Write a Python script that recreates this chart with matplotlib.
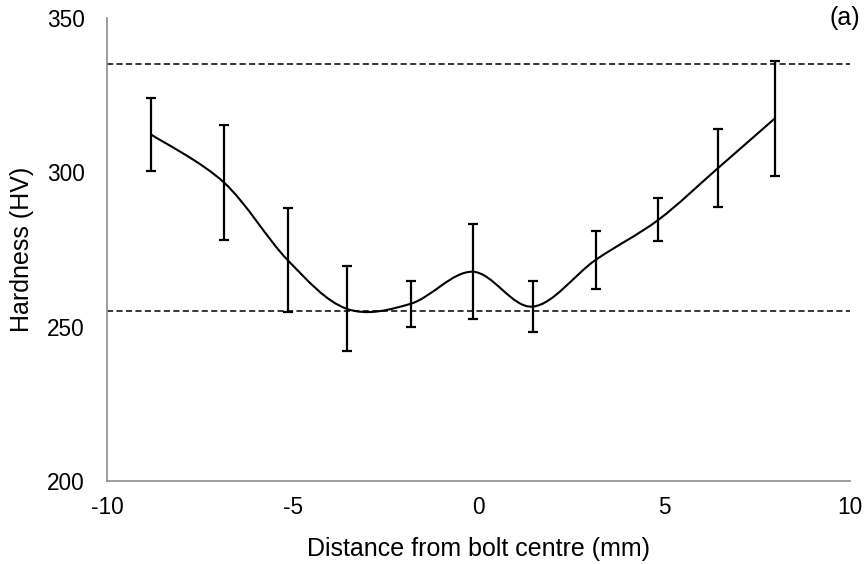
import numpy as np
import matplotlib
matplotlib.use('Agg')
import matplotlib.pyplot as plt
from matplotlib.path import Path
from matplotlib.patches import PathPatch

matplotlib.rcParams.update({'font.family': 'Liberation Sans', 'font.size': 16.3,
                            'axes.unicode_minus': False})

# measured hardness profile across the bolt
distance = [-8.82, -6.85, -5.14, -3.55, -1.83, -0.16, 1.46, 3.15, 4.84, 6.44, 7.98]
hardness = [312.3, 296.7, 271.6, 255.8, 257.4, 267.8, 256.5, 271.6, 284.6, 301.3, 317.5]
err = [11.8, 18.6, 16.8, 13.8, 7.4, 15.3, 8.3, 9.5, 7.0, 12.6, 18.7]

# reference levels (dashed)
upper_level = 335
lower_level = 255


def smooth_path(x, y):
    """
    Builds an Excel-style smoothed line (cubic bezier through every point).
    """
    pts = np.column_stack([x, y])
    n = len(pts)
    verts = [pts[0]]
    codes = [Path.MOVETO]
    for i in range(n - 1):
        p0 = pts[max(i - 1, 0)]
        p1 = pts[i]
        p2 = pts[i + 1]
        p3 = pts[min(i + 2, n - 1)]
        c1 = p1 + (p2 - p0) / 6.0
        c2 = p2 - (p3 - p1) / 6.0
        verts += [c1, c2, p2]
        codes += [Path.CURVE4] * 3
    return Path(verts, codes)


fig = plt.figure(figsize=(8.67, 5.64), dpi=100)
ax = fig.add_axes([107 / 867, 1 - 481 / 564, 743 / 867, 463 / 564])

ax.axhline(upper_level, color='black', lw=1.1, ls=(0, (4, 2.2)), zorder=1)
ax.axhline(lower_level, color='black', lw=1.1, ls=(0, (4, 2.2)), zorder=1)

ax.add_patch(PathPatch(smooth_path(distance, hardness), fill=False,
                       edgecolor='black', lw=1.5, zorder=3))
ax.errorbar(distance, hardness, yerr=err, fmt='none', ecolor='black',
            elinewidth=1.6, capsize=3.3, capthick=1.6, zorder=4)

ax.set_xlim(-10, 10)
ax.set_ylim(200, 350)
ax.set_xticks([-10, -5, 0, 5, 10])
ax.set_yticks([200, 250, 300, 350])
ax.tick_params(length=0)
ax.tick_params(axis='y', pad=16)
ax.tick_params(axis='x', pad=11)
for s in ['top', 'right']:
    ax.spines[s].set_visible(False)
for s in ['left', 'bottom']:
    ax.spines[s].set_color('#8c8c8c')
    ax.spines[s].set_linewidth(1.2)

ax.set_xlabel('Distance from bolt centre (mm)', fontsize=18, labelpad=13)
ax.set_ylabel('Hardness (HV)', fontsize=18, labelpad=9)
fig.text(860 / 867, 1 - 18 / 564, '(a)', fontsize=18, ha='right', va='center')

plt.savefig('out.png', dpi=100)
